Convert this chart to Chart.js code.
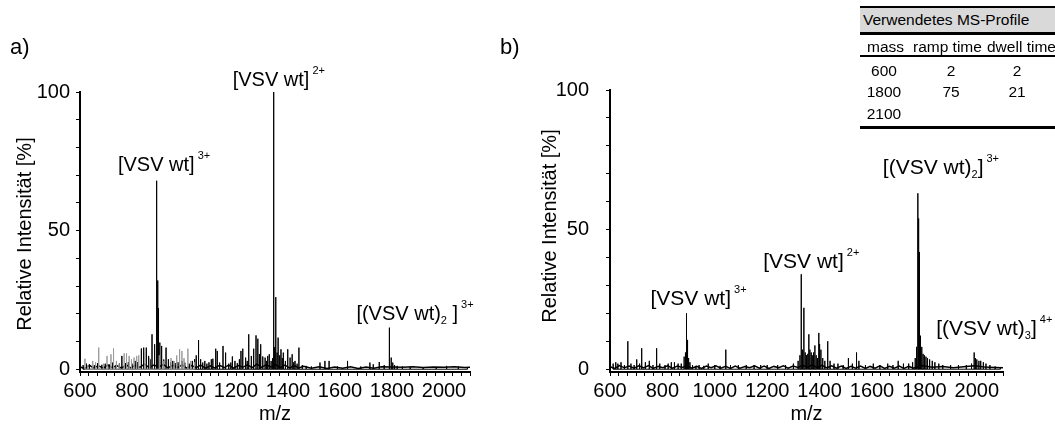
<!DOCTYPE html>
<html>
<head>
<meta charset="utf-8">
<script src="https://cdn.jsdelivr.net/npm/chart.js@4.4.1/dist/chart.umd.min.js"></script>
<style>
  body { margin: 0; background: #fff; font-family: "Liberation Sans", Arial, sans-serif; }
  #wrap { position: relative; width: 1055px; height: 426px; overflow: hidden; }
  canvas { position: absolute; top: 0; }
  .lbl { position: absolute; font-size: 22px; color: #000; }
  .t { position: absolute; font-size: 15.5px; color: #000; white-space: nowrap; line-height: 18px; }
  .rule { position: absolute; left: 860px; width: 195px; background: #000; }
</style>
</head>
<body>
<div id="wrap">
  <canvas id="chartA" width="530" height="426" style="left:0px"></canvas>
  <canvas id="chartB" width="525" height="426" style="left:530px"></canvas>
  <div class="lbl" style="left:10px; top:34px;">a)</div>
  <div class="lbl" style="left:500px; top:34px;">b)</div>

  <!-- MS profile table -->
  <div style="position:absolute; left:860px; top:8px; width:195px; height:25px; background:#d9d9d9;"></div>
  <div class="rule" style="top:6px; height:2px;"></div>
  <div class="rule" style="top:32px; height:3px;"></div>
  <div class="rule" style="top:55px; height:2px;"></div>
  <div class="rule" style="top:126px; height:3px;"></div>
  <div class="t" style="left:863px; top:11px;">Verwendetes MS-Profile</div>
  <div class="t" style="left:867px; top:38px;">mass</div>
  <div class="t" style="left:913px; top:38px;">ramp time</div>
  <div class="t" style="left:987px; top:38px;">dwell time</div>
  <div id="rows"></div>
</div>
<script>
// ---- data ----
const mzTickLabels = [600, 800, 1000, 1200, 1400, 1600, 1800, 2000];
const intTickLabels = [0, 50, 100];

// panel a) - black trace (m/z, relative intensity)
const aMz = [612, 625, 636, 655, 668, 684, 697, 712, 726, 738, 752, 761, 775, 786, 800, 812, 822, 836, 845, 855, 864, 871, 877, 887, 893, 896, 899, 902, 907, 914, 922, 931, 940, 948, 957, 966, 977, 992, 1003, 1020, 1032, 1041, 1047, 1056, 1064, 1072, 1080, 1088, 1096, 1105, 1111, 1122, 1128, 1137, 1150, 1160, 1172, 1180, 1186, 1196, 1205, 1213, 1219, 1226, 1237, 1243, 1249, 1259, 1268, 1277, 1284, 1290, 1295, 1303, 1312, 1318, 1322, 1328, 1335, 1341, 1345, 1349, 1353, 1358, 1362, 1368, 1373, 1378, 1382, 1390, 1399, 1408, 1416, 1422, 1427, 1435, 1442, 1455, 1470, 1490, 1523, 1542, 1558, 1590, 1629, 1680, 1715, 1728, 1751, 1770, 1790, 1797, 1803, 1810, 1820, 1840, 1870, 1920, 1970, 2010, 2055, 2090];
const aInt = [1.5, 2.0, 1.8, 1.5, 2.2, 1.6, 2.0, 1.8, 2.4, 1.5, 2.0, 4.8, 2.2, 2.6, 2.0, 3.0, 2.6, 7.5, 7.8, 7.8, 4.8, 3.5, 12.6, 9.0, 5.5, 68, 32, 22, 9.6, 8.4, 3.5, 7.8, 3.6, 2.5, 3.0, 2.2, 2.5, 3.0, 2.4, 2.0, 3.0, 3.6, 5.0, 10.5, 3.6, 2.4, 3.0, 2.0, 2.5, 3.6, 3.8, 7.4, 6.6, 2.4, 8.4, 6.0, 2.0, 2.4, 4.6, 3.0, 2.2, 3.6, 6.6, 7.4, 4.2, 3.0, 12.6, 4.8, 7.4, 12.2, 11.0, 5.5, 9.0, 4.6, 4.2, 3.0, 4.8, 5.4, 3.0, 4.0, 100, 8.0, 26, 6.0, 11.4, 5.0, 7.2, 4.0, 6.0, 3.0, 7.2, 4.2, 5.4, 2.5, 3.0, 2.0, 7.8, 1.5, 1.2, 1.0, 2.4, 3.0, 3.0, 1.0, 3.0, 1.0, 2.4, 1.8, 2.6, 1.5, 15, 4.2, 2.4, 1.5, 1.2, 1.0, 0.8, 0.8, 0.8, 1.2, 1.0, 0.8];

// panel a) - grey trace
const aGrayMz = [619, 630, 649, 660, 672, 690, 704, 719, 729, 740, 750, 770, 779, 789, 798, 808, 818, 826, 850, 868, 905, 920, 950, 962, 972, 983, 992, 1000, 1015, 1025, 1040];
const aGrayInt = [3.8, 1.5, 3.0, 2.5, 7.8, 2.0, 4.8, 5.4, 7.5, 3.0, 2.0, 5.7, 5.7, 4.8, 3.6, 4.2, 4.8, 5.0, 6.0, 4.0, 5.0, 3.0, 4.0, 3.0, 5.0, 7.2, 6.6, 4.0, 7.4, 3.0, 2.5];

// panel a) - baseline noise
const aNoiseMz = [600, 618, 637, 652, 671, 690, 706, 724, 741, 760, 778, 795, 813, 830, 848, 866, 884, 903, 921, 938, 957, 975, 993, 1010, 1029, 1047, 1064, 1083, 1101, 1118, 1137, 1155, 1172, 1190, 1209, 1226, 1244, 1262, 1280, 1298, 1316, 1334, 1352, 1370, 1388, 1406, 1424, 1442, 1460, 1490, 1520, 1550, 1580, 1610, 1640, 1670, 1700, 1730, 1760, 1800, 1840, 1880, 1920, 1960, 2000, 2040, 2080, 2100];
const aNoiseInt = [0.8, 0.3, 1.4, 0.5, 1.2, 0.4, 1.5, 0.6, 1.3, 0.4, 1.6, 0.5, 1.4, 0.7, 1.8, 0.6, 1.5, 0.8, 1.7, 0.5, 1.4, 0.6, 1.6, 0.4, 1.3, 0.6, 1.5, 0.4, 1.2, 0.5, 1.4, 0.6, 1.5, 0.4, 1.3, 0.7, 1.6, 0.6, 1.8, 0.7, 1.6, 0.8, 1.7, 0.6, 1.5, 0.5, 1.3, 0.5, 1.1, 0.4, 0.9, 0.3, 0.8, 0.4, 0.9, 0.3, 0.8, 0.4, 0.9, 0.8, 0.7, 0.9, 0.6, 0.8, 0.7, 0.9, 0.6, 0.7];

// panel b) - black trace
const bMz = [612, 622, 630, 642, 655, 668, 680, 692, 702, 713, 721, 735, 750, 764, 778, 790, 810, 822, 834, 846, 860, 872, 883, 888, 892, 896, 900, 905, 915, 928, 940, 958, 975, 1000, 1020, 1042, 1060, 1090, 1120, 1150, 1175, 1200, 1240, 1270, 1300, 1318, 1325, 1330, 1335, 1340, 1345, 1350, 1355, 1359, 1363, 1368, 1372, 1377, 1382, 1387, 1392, 1397, 1400, 1405, 1412, 1420, 1431, 1440, 1455, 1470, 1490, 1510, 1525, 1541, 1550, 1575, 1605, 1630, 1660, 1680, 1700, 1720, 1740, 1755, 1765, 1770, 1775, 1778, 1781, 1785, 1790, 1795, 1800, 1806, 1812, 1820, 1830, 1840, 1855, 1870, 1900, 1930, 1960, 1980, 1990, 1995, 2000, 2008, 2015, 2025, 2035, 2050, 2070, 2090];
const bInt = [2.0, 2.5, 2.0, 2.5, 1.5, 10, 2.0, 1.5, 3.5, 2.0, 7.5, 2.5, 3.0, 1.5, 7.5, 2.0, 1.5, 2.0, 2.5, 2.5, 2.0, 2.0, 4.5, 6.0, 20, 10.5, 4.0, 2.5, 1.5, 1.2, 1.5, 1.2, 2.0, 1.5, 1.2, 7.0, 1.5, 1.5, 1.5, 1.5, 1.5, 1.5, 1.5, 1.5, 2.0, 3.0, 5.0, 34, 7.0, 22, 6.0, 5.0, 5.5, 12.5, 7.0, 6.0, 5.0, 6.0, 8.5, 5.0, 4.0, 13, 9.0, 7.0, 4.0, 3.0, 10, 3.0, 2.0, 2.0, 1.5, 4.0, 2.0, 6.0, 3.0, 1.5, 2.0, 1.5, 2.0, 1.5, 3.0, 2.0, 2.0, 2.5, 4.0, 8.0, 63, 54, 42, 12, 8.0, 5.5, 5.0, 4.5, 4.0, 3.5, 3.0, 2.5, 2.0, 1.5, 1.5, 1.5, 1.5, 2.0, 6.0, 4.0, 3.5, 3.0, 3.0, 2.5, 2.0, 1.5, 1.0, 0.8];

// panel b) - baseline noise
const bNoiseMz = [600, 618, 636, 655, 673, 692, 710, 728, 747, 765, 784, 802, 820, 839, 857, 876, 894, 912, 931, 949, 968, 986, 1004, 1023, 1041, 1060, 1078, 1096, 1115, 1133, 1152, 1170, 1188, 1207, 1225, 1244, 1262, 1280, 1299, 1317, 1336, 1354, 1372, 1391, 1409, 1428, 1446, 1464, 1483, 1501, 1520, 1538, 1556, 1575, 1593, 1612, 1630, 1648, 1667, 1685, 1704, 1722, 1740, 1759, 1790, 1830, 1870, 1910, 1950, 1990, 2030, 2070, 2100];
const bNoiseInt = [0.9, 0.3, 1.3, 0.5, 1.1, 0.4, 1.2, 0.5, 1.3, 0.3, 1.0, 0.5, 1.2, 0.4, 1.1, 0.6, 1.3, 0.4, 1.0, 0.3, 1.1, 0.5, 1.2, 0.4, 1.0, 0.3, 1.1, 0.4, 1.0, 0.5, 1.2, 0.4, 1.1, 0.3, 1.0, 0.5, 1.2, 0.4, 1.1, 0.6, 1.4, 0.7, 1.6, 0.6, 1.4, 0.5, 1.2, 0.4, 1.1, 0.3, 1.0, 0.4, 1.1, 0.3, 1.0, 0.4, 1.2, 0.3, 1.0, 0.4, 1.1, 0.3, 1.0, 0.4, 1.3, 0.7, 1.0, 0.5, 0.9, 1.2, 0.8, 0.6, 0.5];

// table rows: mass, ramp time, dwell time
const profMass = ['600', '1800', '2100'];
const profRamp = ['2', '75', ''];
const profDwell = ['2', '21', ''];

// ion labels (anchored on the peak they describe)
const ionsA = [
  { mz: 896, h: 68, main: '[VSV wt]', sub: '', close: '', sup: '3+' },
  { mz: 1345, h: 100, main: '[VSV wt]', sub: '', close: '', sup: '2+' },
  { mz: 1790, h: 15, main: '[(VSV wt)', sub: '2', close: ' ]', sup: '3+' }
];
const ionsB = [
  { mz: 892, h: 20, main: '[VSV wt]', sub: '', close: '', sup: '3+' },
  { mz: 1330, h: 34, main: '[VSV wt]', sub: '', close: '', sup: '2+' },
  { mz: 1775, h: 63, main: '[(VSV wt)', sub: '2', close: ']', sup: '3+' },
  { mz: 1990, h: 6, main: '[(VSV wt)', sub: '3', close: ']', sup: '4+' }
];
// pixel offsets of each label from its peak top
const ionOffA = [[-39, -10], [-41, -6], [-33, -8]];
const ionOffB = [[-36, -8], [-38, -6], [-35, -19], [-38, -17]];

// ---- table rows ----
const rowsEl = document.getElementById('rows');
const rowTops = [62, 83, 105];
profMass.forEach((m, i) => {
  [[m, 884], [profRamp[i], 951], [profDwell[i], 1017]].forEach(([txt, cx]) => {
    const d = document.createElement('div');
    d.className = 't';
    d.textContent = txt;
    d.style.left = (cx - 40) + 'px';
    d.style.width = '80px';
    d.style.textAlign = 'center';
    d.style.top = rowTops[i] + 'px';
    rowsEl.appendChild(d);
  });
});

// ---- helpers ----
function sticks(mz, inten) {
  const pts = [];
  mz.forEach((m, i) => {
    pts.push({ x: m, y: 0 }, { x: m, y: inten[i] }, { x: m, y: 0 });
  });
  return pts;
}
function line(mz, inten) {
  return mz.map((m, i) => ({ x: m, y: inten[i] }));
}

const FONT = '"Liberation Sans", Arial, sans-serif';

// ion labels + y axis title (placed a bit below the axis centre as in the figure)
function ionPlugin(ions, offs, o) {
  return {
    id: 'ions',
    afterDatasetsDraw(chart) {
      const { ctx, scales } = chart;
      ctx.save();
      ctx.fillStyle = '#000';
      ctx.textBaseline = 'alphabetic';
      ions.forEach((ion, i) => {
        let x = scales.x.getPixelForValue(ion.mz) + offs[i][0];
        const y = scales.y.getPixelForValue(ion.h) + offs[i][1];
        ctx.font = o.ionFont + 'px ' + FONT;
        ctx.fillText(ion.main, x, y);
        x += ctx.measureText(ion.main).width;
        if (ion.sub) {
          ctx.font = '11px ' + FONT;
          ctx.fillText(ion.sub, x, y + 4);
          x += ctx.measureText(ion.sub).width;
        }
        if (ion.close) {
          ctx.font = o.ionFont + 'px ' + FONT;
          ctx.fillText(ion.close, x, y);
          x += ctx.measureText(ion.close).width;
        }
        ctx.font = '11px ' + FONT;
        ctx.fillText(ion.sup, x + 3, y - 12);
      });
      // y axis title
      ctx.translate(o.titleX, o.titleY);
      ctx.rotate(-Math.PI / 2);
      ctx.font = '20px ' + FONT;
      ctx.textAlign = 'center';
      ctx.textBaseline = 'middle';
      ctx.fillText('Relative Intensität [%]', 0, 0);
      ctx.restore();
    }
  };
}

function makeChart(id, datasets, ions, offs, o) {
  const xTicks = [];
  for (let k = 0; k <= 45; k++) xTicks.push(600 + k * 200 / 6);
  const yTicks = [];
  for (let v = 0; v <= 100; v += 10) yTicks.push(v);
  return new Chart(document.getElementById(id), {
    type: 'scatter',
    data: { datasets },
    options: {
      responsive: false,
      animation: false,
      events: [],
      layout: { padding: { top: o.top, right: o.right, left: 0, bottom: 0 } },
      plugins: { legend: { display: false }, tooltip: { enabled: false } },
      elements: { point: { radius: 0 }, line: { tension: 0 } },
      scales: {
        x: {
          type: 'linear', min: 600, max: 2100,
          afterBuildTicks: (s) => { s.ticks = xTicks.map(v => ({ value: v })); },
          afterFit: (s) => { s.height = 54; },
          ticks: {
            autoSkip: false, maxRotation: 0, padding: 3, color: '#000',
            font: { family: FONT, size: 20 },
            callback: (v) => mzTickLabels.some(t => Math.abs(t - v) < 0.01) ? Math.round(v) : ''
          },
          grid: { drawOnChartArea: false, drawTicks: true, tickLength: 4, color: '#000', tickWidth: 1 },
          border: { display: true, color: '#000', width: 2 },
          title: { display: true, text: 'm/z', color: '#000', font: { family: FONT, size: 20 }, padding: { top: 0, bottom: 0 } }
        },
        y: {
          type: 'linear', min: -1, max: 100,
          afterBuildTicks: (s) => { s.ticks = yTicks.map(v => ({ value: v })); },
          afterFit: (s) => { s.width = 80; },
          ticks: {
            autoSkip: false, padding: o.yPad, color: '#000',
            font: { family: FONT, size: 20 },
            callback: (v) => intTickLabels.includes(v) ? v : ''
          },
          grid: { drawOnChartArea: false, drawTicks: true, tickLength: 4, color: '#000', tickWidth: 1 },
          border: { display: true, color: '#000', width: 2 },
          title: { display: false }
        }
      }
    },
    plugins: [ionPlugin(ions, offs, o)]
  });
}

makeChart('chartA', [
  { data: sticks(aGrayMz, aGrayInt), showLine: true, borderColor: '#9a9a9a', borderWidth: 1 },
  { data: line(aNoiseMz, aNoiseInt), showLine: true, borderColor: '#000', borderWidth: 1.5 },
  { data: sticks(aMz, aInt), showLine: true, borderColor: '#000', borderWidth: 1 }
], ionsA, ionOffA, { top: 92, right: 60, yPad: 6, titleX: 25, titleY: 234, ionFont: 20 });

makeChart('chartB', [
  { data: line(bNoiseMz, bNoiseInt), showLine: true, borderColor: '#000', borderWidth: 1.5 },
  { data: sticks(bMz, bInt), showLine: true, borderColor: '#000', borderWidth: 1 }
], ionsB, ionOffB, { top: 90, right: 52, yPad: 17, titleX: 20, titleY: 226, ionFont: 21 });
</script>
</body>
</html>
